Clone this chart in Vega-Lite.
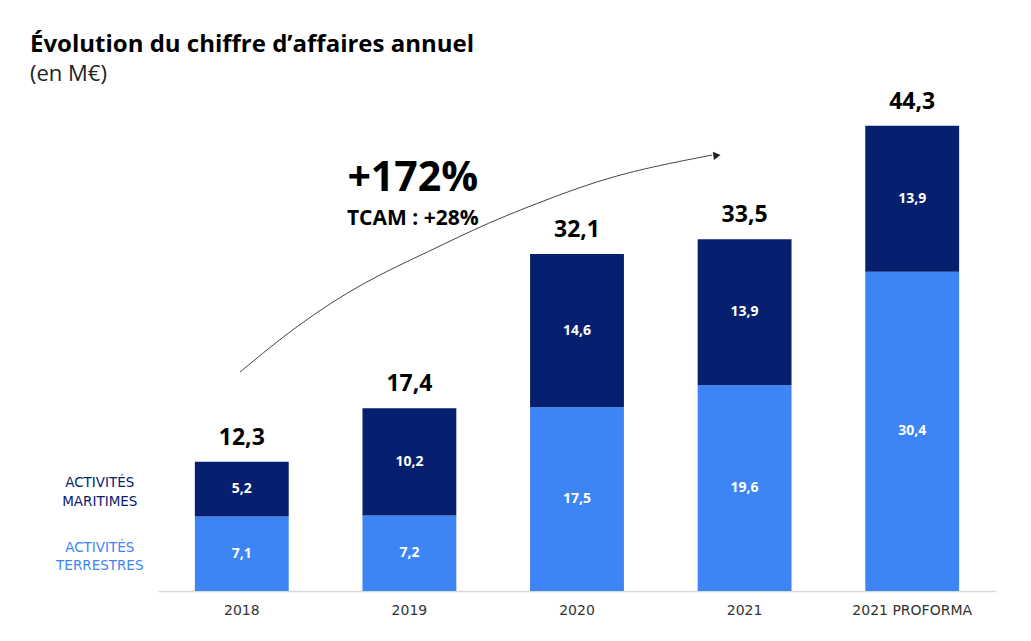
{
  "$schema": "https://vega.github.io/schema/vega-lite/v6.json",
  "width": 838,
  "height": 504,
  "autosize": {"type": "none"},
  "padding": {"left": 158, "top": 87, "right": 35, "bottom": 50},
  "background": "white",
  "config": {
    "view": {"stroke": null},
    "font": "Open Sans",
    "locale": {"number": {"decimal": ",", "thousands": " ", "grouping": [3], "currency": ["", " €"]}}
  },
  "title": {
    "text": "Évolution du chiffre d’affaires annuel",
    "subtitle": "(en M€)",
    "anchor": "start",
    "frame": "group",
    "dx": -128,
    "offset": 2,
    "font": "Open Sans",
    "fontSize": 24,
    "fontWeight": "bold",
    "color": "#000000",
    "subtitleFont": "Open Sans",
    "subtitleFontSize": 22,
    "subtitleColor": "#222222",
    "subtitlePadding": 7
  },
  "datasets": {
    "ca": [
      {"year": "2018", "series": "ACTIVITÉS TERRESTRES", "order": 0, "value": 7.1},
      {"year": "2018", "series": "ACTIVITÉS MARITIMES", "order": 1, "value": 5.2},
      {"year": "2019", "series": "ACTIVITÉS TERRESTRES", "order": 0, "value": 7.2},
      {"year": "2019", "series": "ACTIVITÉS MARITIMES", "order": 1, "value": 10.2},
      {"year": "2020", "series": "ACTIVITÉS TERRESTRES", "order": 0, "value": 17.5},
      {"year": "2020", "series": "ACTIVITÉS MARITIMES", "order": 1, "value": 14.6},
      {"year": "2021", "series": "ACTIVITÉS TERRESTRES", "order": 0, "value": 19.6},
      {"year": "2021", "series": "ACTIVITÉS MARITIMES", "order": 1, "value": 13.9},
      {"year": "2021 PROFORMA", "series": "ACTIVITÉS TERRESTRES", "order": 0, "value": 30.4},
      {"year": "2021 PROFORMA", "series": "ACTIVITÉS MARITIMES", "order": 1, "value": 13.9}
    ],
    "arrow": [
      {"x": -0.01, "y": 20.86},
      {"x": 0.329, "y": 25.33},
      {"x": 0.723, "y": 29.43},
      {"x": 1.123, "y": 32.38},
      {"x": 1.463, "y": 35.05},
      {"x": 1.857, "y": 37.52},
      {"x": 2.257, "y": 39.81},
      {"x": 2.806, "y": 41.52}
    ]
  },
  "layer": [
    {
      "data": {"name": "ca"},
      "encoding": {
        "x": {
          "field": "year",
          "type": "nominal",
          "sort": ["2018", "2019", "2020", "2021", "2021 PROFORMA"],
          "scale": {"paddingInner": 0.44, "paddingOuter": 0.22},
          "axis": {
            "title": null,
            "labelAngle": 0,
            "ticks": false,
            "labelPadding": 12,
            "labelFontSize": 14,
            "labelFont": "DejaVu Sans",
            "labelColor": "#333333",
            "domainColor": "#d9d9d9",
            "domainWidth": 1.5,
            "grid": false
          }
        }
      },
      "layer": [
        {
          "mark": {"type": "bar"},
          "encoding": {
            "y": {"field": "value", "type": "quantitative", "stack": "zero", "scale": {"domain": [0, 48], "nice": false}, "axis": null},
            "color": {
              "field": "series",
              "type": "nominal",
              "scale": {"domain": ["ACTIVITÉS TERRESTRES", "ACTIVITÉS MARITIMES"], "range": ["#3d85f5", "#06206f"]},
              "legend": null
            },
            "order": {"field": "order", "type": "quantitative"}
          }
        },
        {
          "transform": [
            {"stack": "value", "groupby": ["year"], "sort": [{"field": "order", "order": "ascending"}], "as": ["v0", "v1"]},
            {"calculate": "(datum.v0 + datum.v1) / 2", "as": "mid"}
          ],
          "mark": {"type": "text", "color": "white", "fontWeight": "bold", "fontSize": 14, "font": "Open Sans", "baseline": "middle"},
          "encoding": {
            "y": {"field": "mid", "type": "quantitative", "axis": null},
            "text": {"field": "value", "type": "quantitative", "format": ".1f"}
          }
        },
        {
          "transform": [
            {"filter": "datum.year === '2018'"},
            {"stack": "value", "groupby": ["year"], "sort": [{"field": "order", "order": "ascending"}], "as": ["v0", "v1"]},
            {"calculate": "(datum.v0 + datum.v1) / 2", "as": "mid"}
          ],
          "mark": {"type": "text", "fontSize": 13.5, "font": "DejaVu Sans", "baseline": "middle", "dx": -142, "dy": -6, "lineBreak": " ", "lineHeight": 18.5},
          "encoding": {
            "y": {"field": "mid", "type": "quantitative", "axis": null},
            "text": {"field": "series", "type": "nominal"},
            "color": {"field": "series", "type": "nominal", "legend": null}
          }
        },
        {
          "transform": [
            {"aggregate": [{"op": "sum", "field": "value", "as": "total"}], "groupby": ["year"]}
          ],
          "mark": {"type": "text", "color": "black", "fontWeight": "bold", "fontSize": 23, "font": "Open Sans", "baseline": "alphabetic", "dy": -17},
          "encoding": {
            "y": {"field": "total", "type": "quantitative", "axis": null},
            "text": {"field": "total", "type": "quantitative", "format": ".1f"}
          }
        }
      ]
    },
    {
      "layer": [
        {
          "data": {"name": "arrow"},
          "mark": {"type": "line", "interpolate": "basis", "color": "#444444", "strokeWidth": 1},
          "encoding": {
            "x": {"field": "x", "type": "quantitative", "scale": {"domain": [-0.5, 4.5], "nice": false, "zero": false}, "axis": null},
            "y": {"field": "y", "type": "quantitative", "axis": null}
          }
        },
        {
          "data": {"values": [{}]},
          "mark": {"type": "point", "shape": "triangle-right", "filled": true, "color": "#222222", "size": 70, "opacity": 1, "angle": -8},
          "encoding": {
            "x": {"datum": 2.835, "type": "quantitative"},
            "y": {"datum": 41.48, "type": "quantitative"}
          }
        },
        {
          "data": {"values": [{}]},
          "mark": {"type": "text", "text": "+172%", "fontSize": 41, "fontWeight": "bold", "font": "Open Sans", "color": "black", "baseline": "alphabetic"},
          "encoding": {
            "x": {"datum": 1.02, "type": "quantitative"},
            "y": {"datum": 38.1, "type": "quantitative"}
          }
        },
        {
          "data": {"values": [{}]},
          "mark": {"type": "text", "text": "TCAM : +28%", "fontSize": 21, "fontWeight": "bold", "font": "Open Sans", "color": "black", "baseline": "alphabetic"},
          "encoding": {
            "x": {"datum": 1.02, "type": "quantitative"},
            "y": {"datum": 34.9, "type": "quantitative"}
          }
        }
      ]
    }
  ],
  "resolve": {"scale": {"x": "independent"}, "axis": {"x": "independent"}}
}
